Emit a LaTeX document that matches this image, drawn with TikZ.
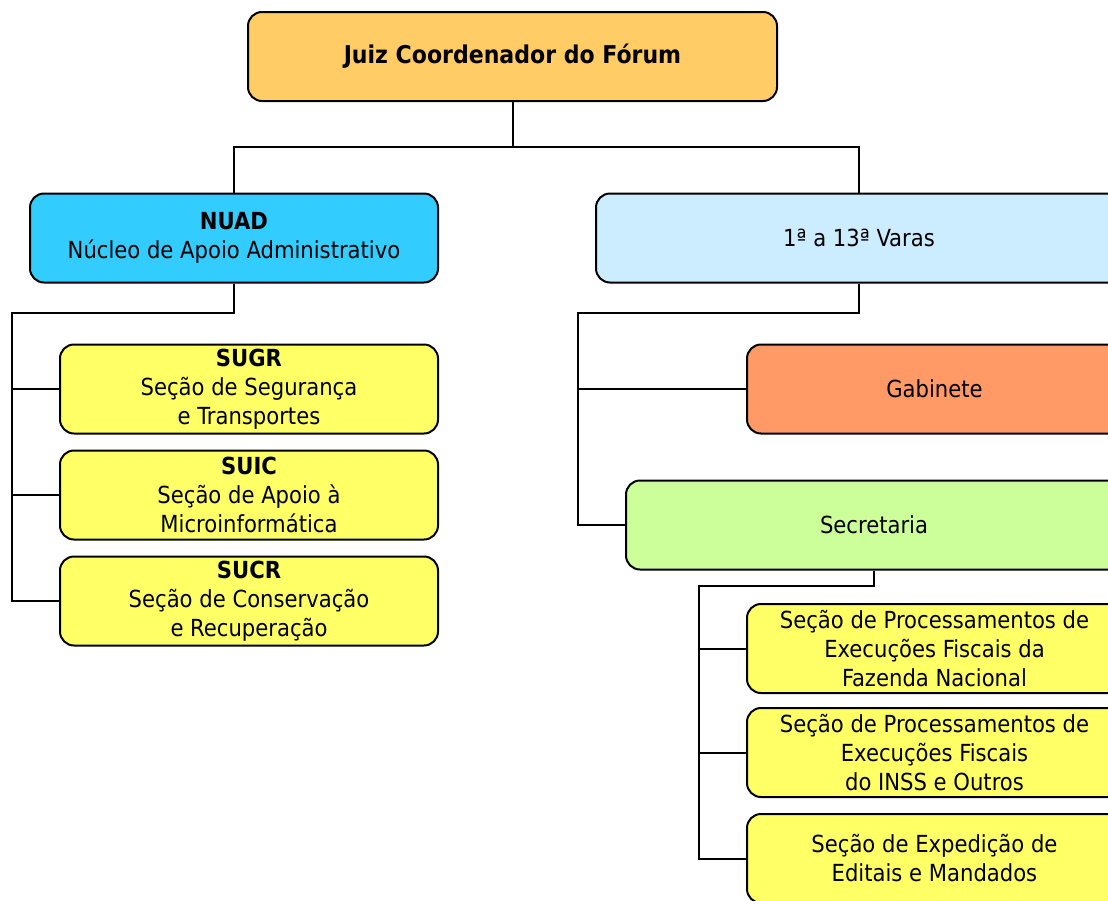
\documentclass[tikz,border=0pt]{standalone}
\usepackage{fontspec}
\setmainfont{DejaVu Sans Condensed}
\usetikzlibrary{calc}

\definecolor{corjuiz}{HTML}{FFCC66}
\definecolor{cornuad}{HTML}{33CCFF}
\definecolor{corvaras}{HTML}{CCECFF}
\definecolor{corgab}{HTML}{FF9966}
\definecolor{corsecr}{HTML}{CCFF99}
\definecolor{corsecao}{HTML}{FFFF66}

\tikzset{
    caixa/.style={draw, line width=2pt, rounded corners=14pt, align=center,
        inner sep=0pt, minimum height=89pt,
        font=\fontsize{23.5}{29}\selectfont},
    liga/.style={line width=2pt},
}

\begin{document}
\begin{tikzpicture}[x=1pt,y=1pt]
                    \useasboundingbox (0,0) rectangle (1108,-900);
                    \clip (0,0) rectangle (1108,-900);
                    % topo
                    \node[caixa, fill=corjuiz, minimum width=529pt, font=\fontsize{24.5}{29}\selectfont] (juiz) at (512.5,-56.5) {\textbf{Juiz Coordenador do Fórum}};
                    \node[caixa, fill=cornuad, minimum width=408pt] (nuad) at (234,-238) {\textbf{NUAD}\\Núcleo de Apoio Administrativo};
                    \node[caixa, fill=corvaras, minimum width=526pt] (varas) at (859,-238) {1ª a 13ª Varas};
                    % lado esquerdo
                    \node[caixa, fill=corsecao, minimum width=378pt] (sugr) at (249,-389) {\textbf{SUGR}\\Seção de Segurança\\e Transportes};
                    \node[caixa, fill=corsecao, minimum width=378pt] (suic) at (249,-495) {\textbf{SUIC}\\Seção de Apoio à\\Microinformática};
                    \node[caixa, fill=corsecao, minimum width=378pt] (sucr) at (249,-601) {\textbf{SUCR}\\Seção de Conservação\\e Recuperação};
                    % lado direito
                    \node[caixa, fill=corgab, minimum width=375pt] (gab) at (934.5,-389) {Gabinete};
                    \node[caixa, fill=corsecr, minimum width=496pt] (secr) at (874,-525) {Secretaria};
                    \node[caixa, fill=corsecao, minimum width=375pt] (proc1) at (934.5,-648.5) {Seção de Processamentos de\\Execuções Fiscais da\\Fazenda Nacional};
                    \node[caixa, fill=corsecao, minimum width=375pt] (proc2) at (934.5,-752.5) {Seção de Processamentos de\\Execuções Fiscais\\do INSS e Outros};
                    \node[caixa, fill=corsecao, minimum width=375pt] (edit) at (934.5,-858.5) {Seção de Expedição de\\Editais e Mandados};
                    % ligacoes
                    \coordinate (busJ) at (512.5,-147);
                    \coordinate (busN) at (12,-313);
                    \coordinate (busV) at (578,-313);
                    \coordinate (busS) at (699,-586);
                    \draw[liga] (juiz.south) -- (busJ) -| (nuad.north);
                    \draw[liga] (busJ) -| (varas.north);
                    \draw[liga] (nuad.south) |- (busN) |- (sucr.west);
                    \draw[liga] (sugr.west) -- (sugr.west -| busN);
                    \draw[liga] (suic.west) -- (suic.west -| busN);
                    \draw[liga] (varas.south) |- (busV) |- (secr.west);
                    \draw[liga] (gab.west) -- (gab.west -| busV);
                    \draw[liga] (secr.south) |- (busS) |- (edit.west);
                    \draw[liga] (proc1.west) -- (proc1.west -| busS);
                    \draw[liga] (proc2.west) -- (proc2.west -| busS);
                \end{tikzpicture}
\end{document}
